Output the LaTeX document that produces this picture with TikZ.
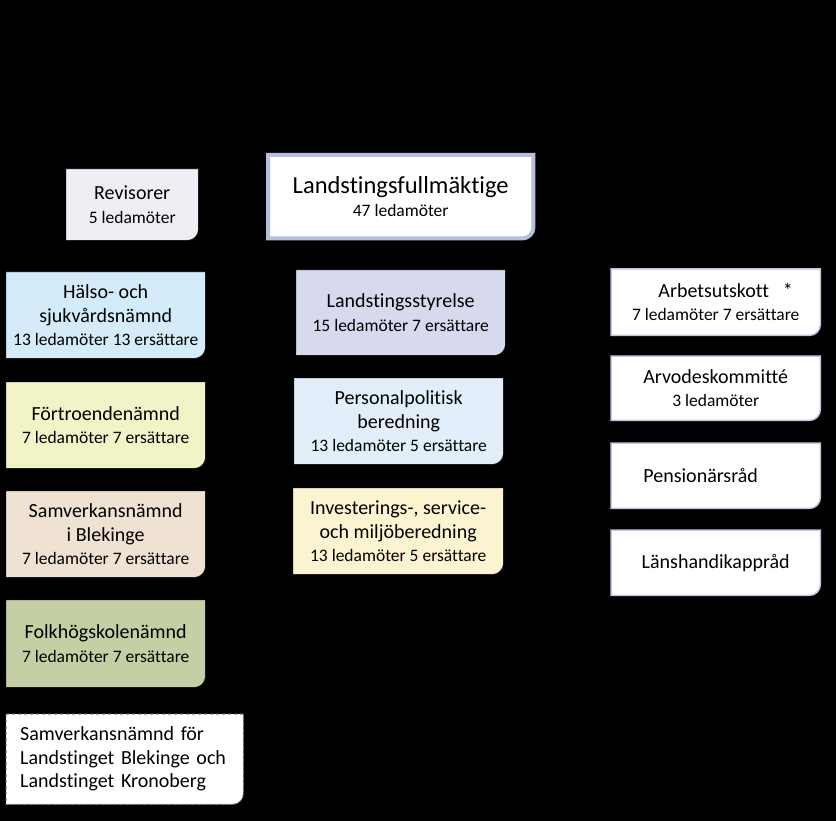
\documentclass[tikz,border=0pt]{standalone}
\usepackage{fontspec}
\setmainfont{Carlito}[Ligatures=CommonOff]
\usetikzlibrary{backgrounds}
\definecolor{revfill}{RGB}{239,238,245}
\definecolor{lfline}{RGB}{183,191,221}
\definecolor{hsfill}{RGB}{212,236,249}
\definecolor{lsfill}{RGB}{215,218,238}
\definecolor{ftfill}{RGB}{242,244,200}
\definecolor{ppfill}{RGB}{226,238,250}
\definecolor{sbfill}{RGB}{239,226,210}
\definecolor{imfill}{RGB}{252,244,208}
\definecolor{fhfill}{RGB}{197,207,164}
\definecolor{rline}{RGB}{192,200,224}
\newcommand\hd{\fontsize{20}{23.5}\selectfont}
\newcommand\sm{\fontsize{17.5}{23.5}\selectfont}
\newcommand\topsz{\fontsize{24.5}{27}\selectfont}
\newcommand\panelbg[2]{%
  \draw[#2] (#1.north west) -- (#1.north east) -- ([yshift=11pt]#1.south east)
    arc[start angle=0,end angle=-90,radius=11pt] -- (#1.south west) -- cycle;}
\tikzset{
  panel/.style={anchor=north west,inner sep=0pt,align=center,font=\hd},
  leftcol/.style={panel,minimum width=199pt,minimum height=86pt},
  midcol/.style={panel,minimum width=209pt,minimum height=86pt},
  rightcol/.style={panel,minimum width=209pt,minimum height=65pt}
}

\begin{document}
\begin{tikzpicture}[x=1pt,y=1pt]
  \node[panel,minimum width=132pt,minimum height=71pt] (rev) at (66,-169) {Revisorer\\{\sm 5 ledamöter}};
  \node[panel,minimum width=265pt,minimum height=83pt] (lf) at (268,-155) {{\topsz Landstingsfullmäktige}\\{\sm 47 ledamöter}};
  \node[leftcol] (hs) at (6,-272) {Hälso- och\\sjukvårdsnämnd\\{\sm 13 ledamöter 13 ersättare}};
  \node[leftcol] (ft) at (6,-382) {Förtroendenämnd\\{\sm 7 ledamöter 7 ersättare}};
  \node[leftcol] (sb) at (6,-491) {Samverkansnämnd\\i Blekinge\\{\sm 7 ledamöter 7 ersättare}};
  \node[leftcol,minimum height=87pt] (fh) at (6,-600) {Folkhögskolenämnd\\{\sm 7 ledamöter 7 ersättare}};
  \node[panel,align=left,minimum width=237pt,minimum height=90pt,text width=209pt] (sk) at (6,-714)
    {Samverkansnämnd för\\Landstinget Blekinge och\\Landstinget Kronoberg};
  \node[midcol,minimum height=85pt] (ls) at (296,-270) {Landstingsstyrelse\\{\sm 15 ledamöter 7 ersättare}};
  \node[midcol] (pp) at (294,-378) {Personalpolitisk\\beredning\\{\sm 13 ledamöter 5 ersättare}};
  \node[midcol,minimum width=210pt] (im) at (293,-488) {Investerings-, service-\\och miljöberedning\\{\sm 13 ledamöter 5 ersättare}};
  \node[rightcol,minimum height=66pt] (au) at (611,-269) {\rule{20pt}{0pt}Arbetsutskott\hspace{14pt}*\\{\sm 7 ledamöter 7 ersättare}};
  \node[rightcol,minimum height=64pt] (ak) at (611,-356) {Arvodeskommitté\\{\sm 3 ledamöter}};
  \node[rightcol] (pr) at (611,-443) {Pensionärsråd\rule{30pt}{0pt}};
  \node[rightcol] (lh) at (611,-530) {Länshandikappråd};
  \begin{scope}[on background layer]
    \path[use as bounding box,fill=black] (0,0) rectangle (836,-821);
    \panelbg{rev}{fill=revfill}
    \panelbg{lf}{fill=white,draw=lfline,line width=4pt}
    \panelbg{hs}{fill=hsfill}
    \panelbg{ft}{fill=ftfill}
    \panelbg{sb}{fill=sbfill}
    \panelbg{fh}{fill=fhfill}
    \panelbg{sk}{fill=white,draw=gray,dashed,line width=1pt}
    \panelbg{ls}{fill=lsfill}
    \panelbg{pp}{fill=ppfill}
    \panelbg{im}{fill=imfill}
    \foreach \n in {au,ak,pr,lh}
      {\panelbg{\n}{fill=white,draw=rline,line width=1.5pt}}
  \end{scope}
\end{tikzpicture}
\end{document}
